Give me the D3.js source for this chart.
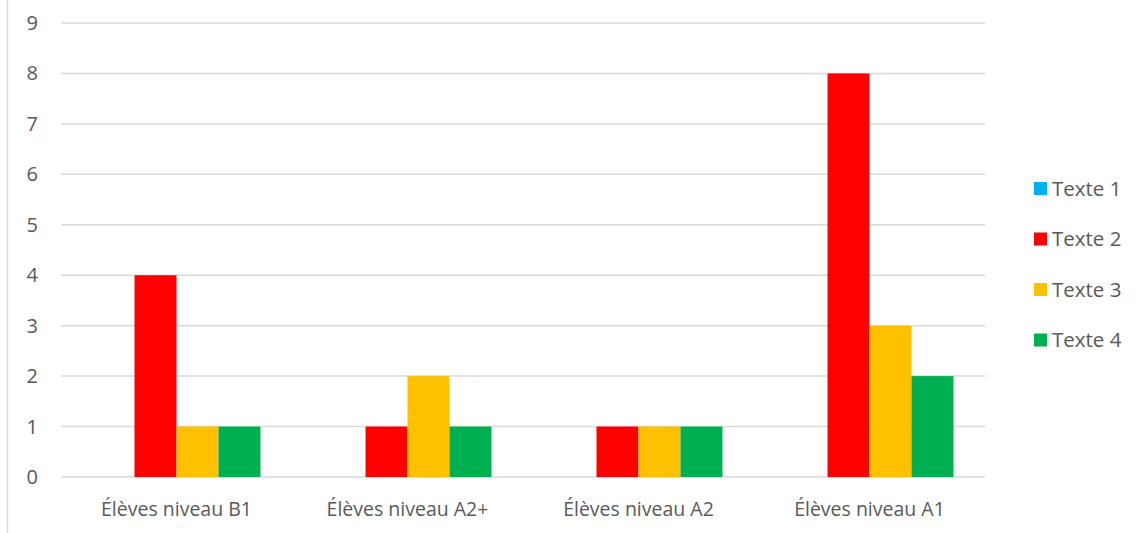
<!DOCTYPE html>
<html><head><meta charset="utf-8">
<script src="https://cdn.jsdelivr.net/npm/d3@7"></script>
<style>body{margin:0;background:#fff}svg{display:block}text{font-family:"Open Sans",sans-serif;fill:#595959}</style>
</head><body>
<svg id="c" width="1144" height="533"></svg>
<script>
const categories = ["Élèves niveau B1","Élèves niveau A2+","Élèves niveau A2","Élèves niveau A1"];
const series = ["Texte 1","Texte 2","Texte 3","Texte 4"];
const texte1 = [0,0,0,0];
const texte2 = [4,1,1,8];
const texte3 = [1,2,1,3];
const texte4 = [1,1,1,2];
const yTicks = [0,1,2,3,4,5,6,7,8,9];
const colors = ["#00B0F0","#FF0000","#FFC000","#00B050"];
const values = [texte1,texte2,texte3,texte4];

const svg = d3.select("#c");
svg.append("line").attr("x1",7.5).attr("x2",7.5).attr("y1",0).attr("y2",533).attr("stroke","#d9d9d9").attr("stroke-width",1.5);

const x0 = d3.scaleBand().domain(categories).range([61,985]).padding(0);
const bw = x0.bandwidth();
const gap = bw*0.1364;
const x1 = d3.scaleBand().domain(series).range([gap,bw-gap]).padding(0);
const y = d3.scaleLinear().domain([0,9]).range([477,23]);

const g = svg.append("g");
g.selectAll("line.grid").data(yTicks).join("line").attr("class","grid")
 .attr("x1",61).attr("x2",985).attr("y1",d=>y(d)).attr("y2",d=>y(d))
 .attr("stroke","#d9d9d9").attr("stroke-width",1.5);
g.selectAll("text.yt").data(yTicks).join("text").attr("class","yt")
 .attr("x",38).attr("y",d=>y(d)).attr("dy","0.35em").attr("text-anchor","end")
 .style("font-size","20px").text(d=>d);

series.forEach((s,si)=>{
  g.selectAll("rect.s"+si).data(categories).join("rect").attr("class","s"+si)
   .attr("x",c=>x0(c)+x1(s)).attr("width",x1.bandwidth())
   .attr("y",(c,i)=>y(values[si][i])).attr("height",(c,i)=>y(0)-y(values[si][i]))
   .attr("fill",colors[si]);
});

g.selectAll("text.xt").data(categories).join("text").attr("class","xt")
 .attr("x",c=>x0(c)+bw/2).attr("y",516).attr("text-anchor","middle")
 .style("font-size","19.5px").text(c=>c);

const lg = svg.append("g");
series.forEach((s,i)=>{
  const cy = 188.5 + i*50.5;
  lg.append("rect").attr("x",1034).attr("y",cy-6.5).attr("width",13).attr("height",13).attr("fill",colors[i]);
  lg.append("text").attr("x",1052).attr("y",cy).attr("dy","0.35em").style("font-size","20.5px").text(s);
});
</script>
</body></html>
